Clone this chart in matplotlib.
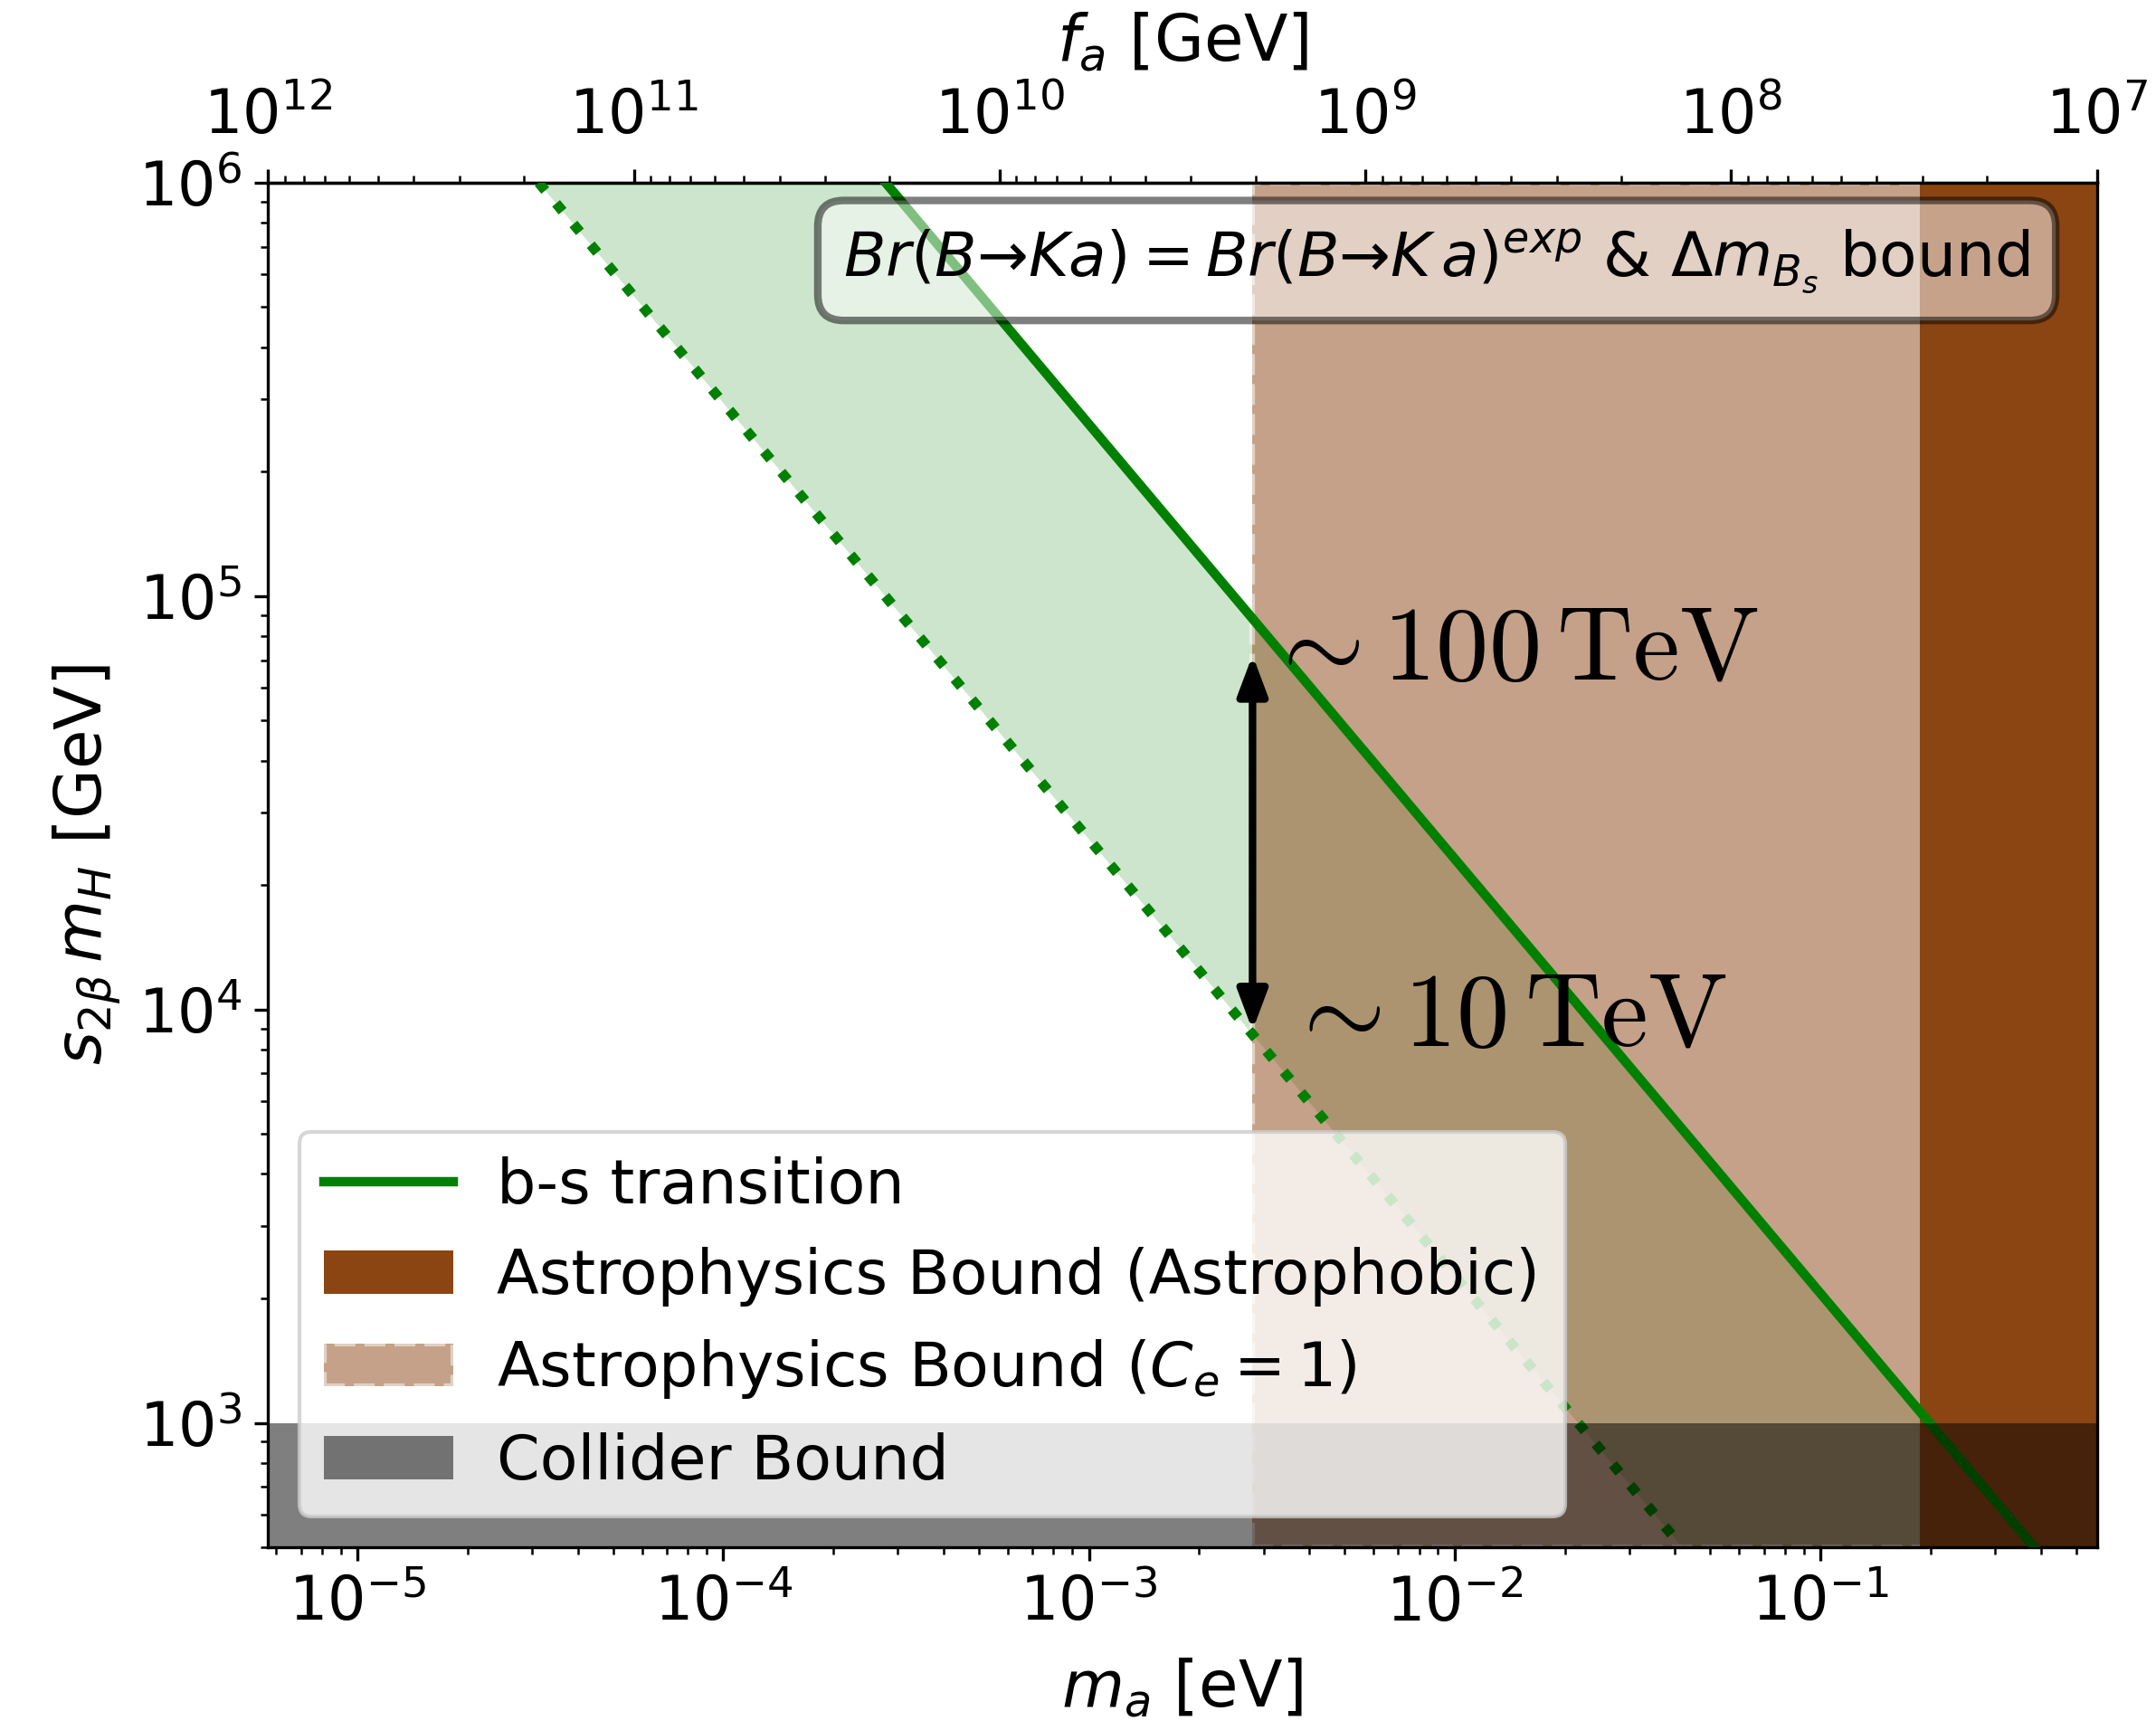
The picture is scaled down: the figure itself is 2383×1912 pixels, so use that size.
import numpy as np
import matplotlib
matplotlib.use('Agg')
import matplotlib.pyplot as plt

# b-s transition line and the band below it (m_a [eV], s2b*m_H [GeV])
ma_bs      = [2.78e-4, 0.384]
y_bs       = [1.0e6, 500.0]
ma_bs_low  = [3.13e-5, 0.0419]
y_bs_low   = [1.0e6, 500.0]

# bounds
ma_astro_ce1   = 2.80e-3    # astrophysics bound, C_e = 1
ma_astrophobic = 0.187      # astrophysics bound, astrophobic
collider_bound = 1.0e3      # GeV

# m_a = K / f_a
K_FA = 5.7e6

xlim = ( K_FA / 1e12, K_FA / 1e7 )
ylim = ( 500.0, 1.0e6 )

fig = plt.figure( figsize = ( 2383 / 300, 1912 / 300 ), dpi = 300 )
ax  = fig.add_axes( [ 0.1244, 0.1056, 0.8482, 0.7888 ] )
ax.set_xscale( 'log' )
ax.set_yscale( 'log' )

# green band between the two b-s lines
band_x = np.concatenate( [ ma_bs, ma_bs_low[ ::-1 ] ] )
band_y = np.concatenate( [ y_bs, y_bs_low[ ::-1 ] ] )
ax.fill( band_x, band_y, color = 'green', alpha = 0.2, lw = 0, zorder = 1 )

# astrophysics bounds
span_ce1 = ax.axvspan( ma_astro_ce1, 10, facecolor = 'saddlebrown', alpha = 0.5,
                       edgecolor = 'white', linestyle = '--', lw = 1.5, zorder = 2,
                       label = r'Astrophysics Bound ($C_e = 1$)' )
span_phob = ax.axvspan( ma_astrophobic, 10, color = 'saddlebrown', lw = 0, zorder = 2,
                        label = 'Astrophysics Bound (Astrophobic)' )

# b-s transition lines
line_bs, = ax.plot( ma_bs, y_bs, color = 'green', lw = 2.5, zorder = 3, label = 'b-s transition' )
ax.plot( ma_bs_low, y_bs_low, color = 'green', lw = 2.7, ls = ':', zorder = 3 )

# collider bound
span_col = ax.axhspan( 1, collider_bound, color = 'black', alpha = 0.5, lw = 0, zorder = 4,
                       label = 'Collider Bound' )

ax.set_xlim( xlim )
ax.set_ylim( ylim )

# arrow between the two scales
ax.annotate( '', xy = ( ma_astro_ce1, 7.2e4 ), xytext = ( ma_astro_ce1, 8.9e3 ),
             arrowprops = dict( arrowstyle = '<|-|>,head_length=0.4,head_width=0.15',
                                mutation_scale = 22, color = 'black', lw = 2,
                                shrinkA = 0, shrinkB = 0 ),
             zorder = 5 )
ax.text( 3.0e-3, 7.4e4, r'$\sim 100\,\mathrm{TeV}$', fontsize = 28, math_fontfamily = 'cm',
         ha = 'left', va = 'center', zorder = 5 )
ax.text( 3.42e-3, 9.6e3, r'$\sim 10\,\mathrm{TeV}$', fontsize = 28, math_fontfamily = 'cm',
         ha = 'left', va = 'center', zorder = 5 )

ax.text( 0.639, 0.943, r'$Br(B→Ka) = Br(B→K\,a)^{exp}$ & $\Delta m_{B_s}$ bound',
         transform = ax.transAxes, ha = 'center', va = 'center', fontsize = 16.3,
         bbox = dict( boxstyle = 'round,pad=0.42', facecolor = 'white', alpha = 0.5, lw = 2 ),
         zorder = 6 )

# top axis in f_a
secax = ax.secondary_xaxis( 'top', functions = ( lambda m: K_FA / m, lambda f: K_FA / f ) )
secax.set_xlabel( r'$f_a$ [GeV]', fontsize = 17, labelpad = 7 )
secax.tick_params( labelsize = 16, pad = 6 )

ax.set_xlabel( r'$m_a$ [eV]', fontsize = 17, labelpad = 6 )
ax.set_ylabel( r'$s_{2\beta}\,m_H$ [GeV]', fontsize = 17 )
ax.tick_params( labelsize = 16 )

leg = ax.legend( handles = [ line_bs, span_phob, span_ce1, span_col ], loc = 'lower left',
                 fontsize = 16.4, handlelength = 2.1, handletextpad = 0.7 )
leg.set_zorder( 7 )

fig.savefig( 'out.png', dpi = 300 )
